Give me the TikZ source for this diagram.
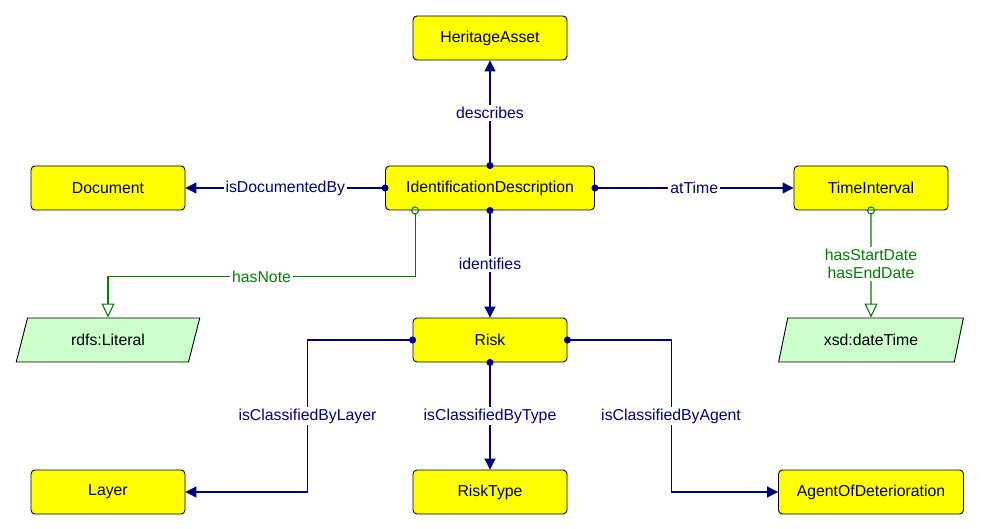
\documentclass[tikz,border=0pt]{standalone}
\usepackage{fontspec}
\setmainfont{Liberation Sans}
\usetikzlibrary{shapes.geometric, arrows.meta}
\definecolor{classyellow}{RGB}{255,255,0}
\definecolor{typegreen}{RGB}{204,255,204}
\definecolor{propnavy}{RGB}{0,0,128}
\definecolor{datagreen}{RGB}{0,128,0}
\tikzstyle{class} = [rectangle, rounded corners=4pt, minimum width=154pt, minimum height=44pt, inner sep=0pt, text centered, draw=black, line width=0.9pt, fill=classyellow]
\tikzstyle{datatype} = [trapezium, trapezium left angle=66, trapezium right angle=114, trapezium stretches=true, minimum width=185pt, minimum height=44pt, inner sep=0pt, text centered, draw=black, line width=0.9pt, fill=typegreen]
\tikzstyle{objprop} = [propnavy, line width=1.1pt, {Circle[length=7pt]}-{Triangle[length=11pt,width=11pt]}, shorten <=-3.5pt]
\tikzstyle{dataprop} = [datagreen, line width=1.1pt, {Circle[open,length=8pt]}-{Triangle[open,length=14pt,width=13pt]}, shorten <=-4pt]
\tikzstyle{proplabel} = [fill=white, inner sep=2pt, text=propnavy]
\tikzstyle{datalabel} = [fill=white, inner sep=2pt, text=datagreen, align=center]

\begin{document}
\begin{tikzpicture}[x=1pt, y=-1pt, node distance=151pt, font=\fontsize{15.8pt}{18.5pt}\selectfont]
        \useasboundingbox (0,0) rectangle (981,529);
        \node (heritage) [class] at (490,38) {HeritageAsset};
        \node (idesc) [class, below of=heritage, yshift=1pt, minimum width=209pt] {IdentificationDescription};
        \node (document) [class, left of=idesc, xshift=-231pt] {Document};
        \node (interval) [class, right of=idesc, xshift=230pt] {TimeInterval};
        \node (risk) [class, below of=idesc, yshift=-1pt] {Risk};
        \node (literal) [datatype, below of=document, yshift=-1pt] {rdfs:Literal};
        \node (datetime) [datatype, below of=interval, yshift=-1pt] {xsd:dateTime};
        \node (layer) [class, below of=literal, yshift=-1pt] {Layer};
        \node (risktype) [class, below of=risk, yshift=-1pt] {RiskType};
        \node (agent) [class, below of=datetime, yshift=-1pt, minimum width=185pt] {AgentOfDeterioration};
        \draw [objprop] (idesc.north) -- node[proplabel]{describes} (heritage.south);
        \draw [objprop] (idesc.west) -- node[proplabel]{isDocumentedBy} (document.east);
        \draw [objprop] (idesc.east) -- node[proplabel]{atTime} (interval.west);
        \draw [objprop] (idesc.south) -- node[proplabel]{identifies} (risk.north);
        \draw [dataprop] ([xshift=30pt]idesc.south west) -- ++(0,66) -| node[datalabel, pos=0.25]{hasNote} (literal.north);
        \draw [dataprop] (interval.south) -- node[datalabel]{hasStartDate\\hasEndDate} (datetime.north);
        \draw [objprop] (risk.west) -| node[proplabel, pos=0.75]{isClassifiedByLayer} ([xshift=122pt]layer.east) -- (layer.east);
        \draw [objprop] (risk.south) -- node[proplabel]{isClassifiedByType} (risktype.north);
        \draw [objprop] (risk.east) -| node[proplabel, pos=0.75]{isClassifiedByAgent} ([xshift=-107pt]agent.west) -- (agent.west);
      \end{tikzpicture}
\end{document}
